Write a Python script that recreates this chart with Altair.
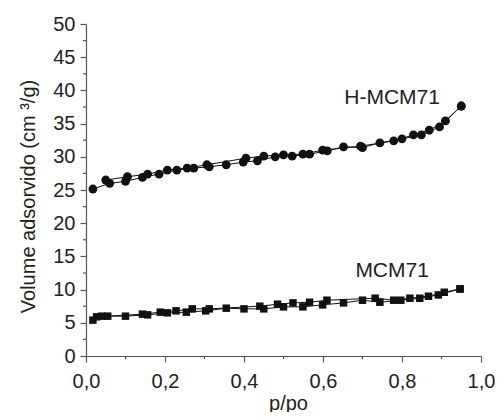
import altair as alt
import pandas as pd

# H-MCM71 adsorption / desorption branches
h_ads_p = [0.0175, 0.06, 0.10, 0.143, 0.185, 0.23, 0.273, 0.312, 0.355, 0.398, 0.434, 0.479, 0.522, 0.566, 0.611, 0.652, 0.70, 0.744, 0.80, 0.849, 0.895, 0.95]
h_ads_v = [25.15, 26.0, 26.3, 26.9, 27.4, 28.0, 28.3, 28.5, 28.8, 29.2, 29.4, 30.0, 30.1, 30.4, 30.9, 31.5, 31.4, 32.1, 32.7, 33.3, 34.5, 37.65]
h_des_p = [0.95, 0.91, 0.869, 0.829, 0.779, 0.695, 0.599, 0.549, 0.50, 0.45, 0.405, 0.306, 0.256, 0.206, 0.156, 0.105, 0.05]
h_des_v = [37.65, 35.4, 34.0, 33.3, 32.4, 31.6, 31.0, 30.4, 30.3, 30.1, 29.8, 28.8, 28.3, 28.0, 27.4, 27.0, 26.5]

# MCM71 adsorption / desorption branches
m_ads_p = [0.0175, 0.04, 0.10, 0.156, 0.206, 0.254, 0.303, 0.355, 0.40, 0.45, 0.50, 0.549, 0.599, 0.652, 0.70, 0.744, 0.797, 0.845, 0.892, 0.947]
m_ads_v = [5.4, 6.0, 6.0, 6.2, 6.5, 6.6, 6.8, 7.2, 7.1, 7.1, 7.4, 7.4, 7.7, 8.0, 8.4, 8.1, 8.4, 8.7, 9.2, 10.1]
m_des_p = [0.947, 0.907, 0.867, 0.82, 0.779, 0.732, 0.61, 0.566, 0.524, 0.485, 0.44, 0.312, 0.269, 0.228, 0.188, 0.143, 0.055, 0.027]
m_des_v = [10.1, 9.6, 9.0, 8.7, 8.4, 8.7, 8.4, 8.1, 8.0, 7.8, 7.5, 7.1, 7.1, 6.8, 6.6, 6.3, 6.0, 5.9]

labels = ["H-MCM71", "MCM71"]
label_p = [0.775, 0.775]
label_v = [37.95, 11.9]

y_major = [0, 5, 10, 15, 20, 25, 30, 35, 40, 45, 50]
y_minor = [2.5, 7.5, 12.5, 17.5, 22.5, 27.5, 32.5, 37.5, 42.5, 47.5]
x_major = [0.0, 0.2, 0.4, 0.6, 0.8, 1.0]
x_minor = [0.1, 0.3, 0.5, 0.7, 0.9]

rows = []
for sample, branch, ps, vs in [
    ("H-MCM71", "ads", h_ads_p, h_ads_v),
    ("H-MCM71", "des", h_des_p, h_des_v),
    ("MCM71", "ads", m_ads_p, m_ads_v),
    ("MCM71", "des", m_des_p, m_des_v),
]:
    for i, (p, v) in enumerate(zip(ps, vs)):
        rows.append({"p": p, "v": v, "sample": sample, "branch": branch, "key": sample + branch, "order": i})
df = pd.DataFrame(rows)
lab_df = pd.DataFrame({"text": labels, "p": label_p, "v": label_v})
ymin_df = pd.DataFrame({"v": y_minor})
xmin_df = pd.DataFrame({"p": x_minor})

FONT = "Liberation Sans"
AXIS_COLOR = "#555555"
W, H = 395, 332

x_scale = alt.Scale(domain=[0, 1], nice=False, zero=False)
y_scale = alt.Scale(domain=[0, 50], nice=False)

x_axis = alt.Axis(
    values=x_major,
    tickCount=40,
    labelExpr="replace(format(datum.value, '.1f'), '.', ',')",
    tickSize=6,
    labelPadding=9,
    labelFlush=False,
    labelOverlap=False,
    title="p/po",
    titleX=202,
    titleY=53,
    titleBaseline="alphabetic",
    grid=False,
)
y_axis = alt.Axis(
    values=y_major,
    tickCount=40,
    labelExpr="format(datum.value, 'd')",
    tickSize=6,
    labelPadding=5,
    labelOverlap=False,
    labelBaseline="middle",
    title="Volume adsorvido (cm \u00b3/g)",
    titleX=-52,
    titleY=172,
    titleBaseline="alphabetic",
    titleAngle=-90,
    grid=False,
)

base = alt.Chart(df).encode(
    x=alt.X("p:Q", scale=x_scale, axis=x_axis),
    y=alt.Y("v:Q", scale=y_scale, axis=y_axis),
)

lines = base.mark_line(color="#111111", strokeWidth=1).encode(
    detail="key:N", order="order:Q"
)
points = base.mark_point(filled=True, opacity=1, color="#111111").encode(
    shape=alt.Shape("sample:N", scale=alt.Scale(domain=["H-MCM71", "MCM71"], range=["circle", "square"]), legend=None),
    size=alt.Size("sample:N", scale=alt.Scale(domain=["H-MCM71", "MCM71"], range=[78, 56]), legend=None),
)
texts = alt.Chart(lab_df).mark_text(
    font=FONT, fontSize=21, color="#222222", align="center", baseline="alphabetic"
).encode(x=alt.X("p:Q", scale=x_scale), y=alt.Y("v:Q", scale=y_scale), text="text:N")

y_minor_ticks = alt.Chart(ymin_df).mark_rule(color=AXIS_COLOR, strokeWidth=1.2).encode(
    y=alt.Y("v:Q", scale=y_scale), x=alt.value(-3), x2=alt.value(0)
)
x_minor_ticks = alt.Chart(xmin_df).mark_rule(color=AXIS_COLOR, strokeWidth=1.2).encode(
    x=alt.X("p:Q", scale=x_scale), y=alt.value(H), y2=alt.value(H + 3)
)

chart = (
    alt.layer(lines, points, texts, y_minor_ticks, x_minor_ticks)
    .properties(
        width=W,
        height=H,
        autosize=alt.AutoSizeParams(type="none"),
        padding={"left": 78, "top": 16, "right": 15, "bottom": 56},
    )
    .configure_view(stroke=None)
    .configure_axis(
        domainColor=AXIS_COLOR,
        tickColor=AXIS_COLOR,
        labelColor="#222222",
        titleColor="#222222",
        labelFont=FONT,
        titleFont=FONT,
        labelFontSize=20,
        titleFontSize=20,
        titleFontWeight="normal",
        domainWidth=1.2,
        tickWidth=1.2,
    )
)

chart.save("out.html", embed_options={"renderer": "svg", "actions": False})
